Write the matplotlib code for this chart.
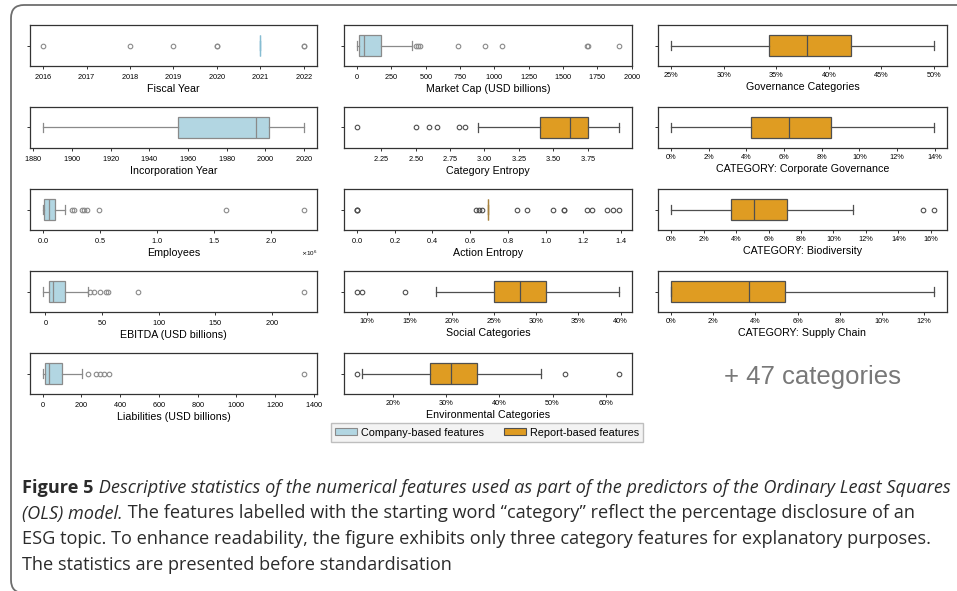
import matplotlib
matplotlib.use("Agg")
import matplotlib.pyplot as plt
from matplotlib.ticker import PercentFormatter
from matplotlib.patches import FancyBboxPatch, Patch
from matplotlib.transforms import IdentityTransform

# box stats are [whisker low, q1, median, q3, whisker high]
fiscal_year = [2021, 2021, 2021, 2021, 2021]
fiscal_year_out = [2016, 2018, 2019, 2020, 2020, 2022, 2022]
incorporation_year = [1885, 1955, 1995, 2002, 2020]
incorporation_year_out = []
employees = [0, 7e3, 4.9e4, 1.05e5, 1.89e5]
employees_out = [2.55e5, 2.7e5, 3.4e5, 3.6e5, 3.85e5, 4.88e5, 1.604e6, 2.291e6]
ebitda = [-2.1, 2.9, 6.5, 17.1, 37.6]
ebitda_out = [39.1, 42.6, 47.9, 53.8, 55.0, 81.8, 228.2]
liabilities = [2, 14, 34, 100, 203]
liabilities_out = [234, 277, 295, 319, 341, 1349]

market_cap = [0, 14.6, 53, 172, 401]
market_cap_out = [428, 445, 457, 731, 931, 1057, 1672, 1684, 1906]
category_entropy = [2.956, 3.40, 3.621, 3.75, 3.975]
category_entropy_out = [2.076, 2.50, 2.599, 2.657, 2.815, 2.861]
category_entropy_ticks = [2.25, 2.50, 2.75, 3.00, 3.25, 3.50, 3.75]
action_entropy = [0.693, 0.693, 0.693, 0.693, 0.693]
action_entropy_out = [0, 0, 0, 0.632, 0.647, 0.662, 0.848, 0.901, 1.039,
                      1.099, 1.099, 1.22, 1.245, 1.326, 1.357, 1.389]
social = [0.182, 0.250, 0.281, 0.312, 0.398]
social_out = [0.088, 0.094, 0.145]
environmental = [0.142, 0.269, 0.309, 0.357, 0.479]
environmental_out = [0.132, 0.524, 0.625]

governance = [0.25, 0.3427, 0.3795, 0.421, 0.50]
governance_out = []
corporate_gov = [0, 0.0424, 0.0624, 0.0848, 0.1395]
corporate_gov_out = []
biodiversity = [0, 0.0366, 0.0511, 0.0714, 0.1118]
biodiversity_out = [0.1553, 0.1619]
supply_chain = [0, 0, 0.0371, 0.0542, 0.1246]
supply_chain_out = []

legend_labels = ["Company-based features", "Report-based features"]

blue = "#b2d6e2"
orange = "#df9c22"
blue_line = "#8a8a8a"
orange_line = "#4f4f4f"

plt.rcParams['font.family'] = ['Liberation Sans', 'DejaVu Sans']
plt.rcParams['axes.formatter.use_mathtext'] = True

W, H = 957, 591
fig = plt.figure(figsize=(W / 100, H / 100), dpi=100)

col_x = [30, 344, 658]
col_w = [287, 288, 289]
row_top = [25, 107, 189, 271, 353]
row_h = 41

# (col, row, label, stats, outliers, fill, line, flier colour, percent, ticks)
panels = [
    (0, 0, "Fiscal Year", fiscal_year, fiscal_year_out, blue, "#86bdd2", blue_line, False, None),
    (0, 1, "Incorporation Year", incorporation_year, incorporation_year_out, blue, blue_line, blue_line, False, None),
    (0, 2, "Employees", employees, employees_out, blue, blue_line, blue_line, False, None),
    (0, 3, "EBITDA (USD billions)", ebitda, ebitda_out, blue, blue_line, blue_line, False, None),
    (0, 4, "Liabilities (USD billions)", liabilities, liabilities_out, blue, blue_line, blue_line, False, None),
    (1, 0, "Market Cap (USD billions)", market_cap, market_cap_out, blue, blue_line, blue_line, False, None),
    (1, 1, "Category Entropy", category_entropy, category_entropy_out, orange, orange_line, orange_line, False,
     category_entropy_ticks),
    (1, 2, "Action Entropy", action_entropy, action_entropy_out, orange, "#a8823e", orange_line, False, None),
    (1, 3, "Social Categories", social, social_out, orange, orange_line, orange_line, True, None),
    (1, 4, "Environmental Categories", environmental, environmental_out, orange, orange_line, orange_line, True, None),
    (2, 0, "Governance Categories", governance, governance_out, orange, orange_line, orange_line, True, None),
    (2, 1, "CATEGORY: Corporate Governance", corporate_gov, corporate_gov_out, orange, orange_line, orange_line, True, None),
    (2, 2, "CATEGORY: Biodiversity", biodiversity, biodiversity_out, orange, orange_line, orange_line, True, None),
    (2, 3, "CATEGORY: Supply Chain", supply_chain, supply_chain_out, orange, orange_line, orange_line, True, None),
]

for col, row, label, st, out, fill, line, fcol, pct, ticks in panels:
    ax = fig.add_axes([col_x[col] / W, 1 - (row_top[row] + row_h) / H,
                       col_w[col] / W, row_h / H])
    stats = dict(whislo=st[0], q1=st[1], med=st[2], q3=st[3], whishi=st[4], fliers=out)
    ax.bxp([stats], positions=[0], widths=0.5, orientation='horizontal',
           patch_artist=True, capwidths=0.2,
           boxprops=dict(facecolor=fill, edgecolor=line, linewidth=0.9),
           medianprops=dict(color=line, linewidth=0.9),
           whiskerprops=dict(color=line, linewidth=0.9),
           capprops=dict(color=line, linewidth=0.9),
           flierprops=dict(marker='o', markerfacecolor='none', markeredgecolor=fcol,
                           markersize=3.3, markeredgewidth=0.8))
    ax.set_ylim(-0.5, 0.5)
    ax.set_yticks([0], [''])
    if ticks is not None:
        ax.set_xticks(ticks)
    if pct:
        ax.xaxis.set_major_formatter(PercentFormatter(1, decimals=0))
    ax.tick_params(length=2.2, width=0.7, pad=1.8, labelsize=5.3, color='#333333')
    ax.xaxis.get_offset_text().set_fontsize(4.5)
    for sp in ax.spines.values():
        sp.set_color('#333333')
        sp.set_linewidth(0.9)
    ax.set_xlabel(label, fontsize=7.7, labelpad=2.8)

fig.legend(handles=[Patch(facecolor=blue, edgecolor=blue_line, linewidth=0.8),
                    Patch(facecolor=orange, edgecolor=orange_line, linewidth=0.8)],
           labels=legend_labels, loc='center', bbox_to_anchor=(487 / W, 1 - 432.5 / H),
           ncol=2, fontsize=7.8, frameon=True, fancybox=False, facecolor='#f0f0f0',
           edgecolor='#b0b0b0', handlelength=2.0, handleheight=0.65,
           handletextpad=0.35, columnspacing=1.9, borderpad=0.4)

fig.text(813 / W, 1 - 384 / H, "+ 47 categories", ha='center', va='baseline',
         fontsize=18.5, color='#787878')

# card frame around the figure and caption
frame = FancyBboxPatch((11, -2), 1000, H - 5 + 2, boxstyle="round,pad=0,rounding_size=13",
                       transform=IdentityTransform(), fill=False,
                       edgecolor='#6e6e6e', linewidth=1.3)
fig.add_artist(frame)

cap_font = ['Open Sans', 'DejaVu Sans']
cap_size = 13.05
caption = [
    [("Figure 5", 'normal', 'bold'),
     (" Descriptive statistics of the numerical features used as part of the predictors of the Ordinary Least Squares",
      'italic', 'normal')],
    [("(OLS) model.", 'italic', 'normal'),
     (" The features labelled with the starting word \u201ccategory\u201d reflect the percentage disclosure of an",
      'normal', 'normal')],
    [("ESG topic. To enhance readability, the figure exhibits only three category features for explanatory purposes.",
      'normal', 'normal')],
    [("The statistics are presented before standardisation", 'normal', 'normal')],
]
baselines = [493, 518.5, 544, 569.5]

renderer = fig.canvas.get_renderer()
for pieces, yb in zip(caption, baselines):
    x = 22
    for txt, style, weight in pieces:
        t = fig.text(x / W, 1 - yb / H, txt, ha='left', va='baseline', family=cap_font,
                     fontsize=cap_size, style=style, weight=weight, color='#2b2b2b')
        x = t.get_window_extent(renderer).x1

fig.savefig("out.png", dpi=100)
